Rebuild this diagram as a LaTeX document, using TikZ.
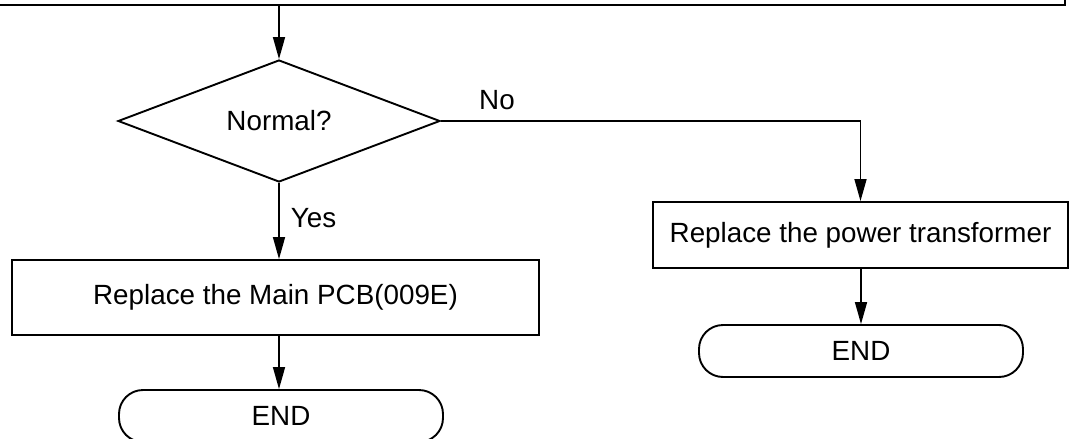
\documentclass[tikz,border=0pt]{standalone}
\usepackage{fontspec}
\setmainfont{Liberation Sans}
\usetikzlibrary{shapes.geometric,arrows.meta}
\begin{document}
\begin{tikzpicture}[x=1pt,y=-1pt,
  every node/.style={font=\fontsize{27.8}{33}\selectfont, line width=1.9pt},
  procbox/.style={draw, rectangle, inner sep=0pt},
  termbox/.style={draw, rectangle, rounded corners=24pt, inner sep=0pt},
  decbox/.style={draw, diamond, inner sep=0pt, aspect=2.65},
  lbl/.style={inner sep=0pt},
  flow/.style={line width=1.6pt, -{Triangle[length=22pt,width=12pt]}},
  plainline/.style={line width=1.6pt}]
\useasboundingbox (0,0) rectangle (1074,439);
\node[procbox, minimum width=1100pt, minimum height=60pt, anchor=south east] (top) at (1066,6) {};
\node[decbox, minimum width=322pt, minimum height=122pt] (dec) at (279,121) {Normal?};
\node[procbox, minimum width=527pt, minimum height=75pt] (pcb) at (275.5,297.5) {Replace the Main PCB(009E)};
\node[termbox, minimum width=324pt, minimum height=52pt] (end1) at (281,416) {END};
\node[procbox, minimum width=415pt, minimum height=66pt] (ptr) at (860.5,235) {Replace the power transformer};
\node[termbox, minimum width=324pt, minimum height=52pt] (end2) at (861,351) {END};
\node[lbl] (no) at (497,100) {No};
\node[lbl, anchor=west] (yes) at (290,218) {Yes};
\coordinate (corner) at (ptr.north |- dec.east);
\draw[flow] (top.south -| dec.north) -- (dec.north);
\draw[flow] (dec.south) -- (pcb.north -| dec.south);
\draw[flow] (pcb.south -| dec.south) -- (end1.north -| dec.south);
\draw[plainline] (dec.east) -- (corner);
\draw[flow] (corner) -- (ptr.north);
\draw[flow] (ptr.south -| end2.north) -- (end2.north);
\end{tikzpicture}
\end{document}
